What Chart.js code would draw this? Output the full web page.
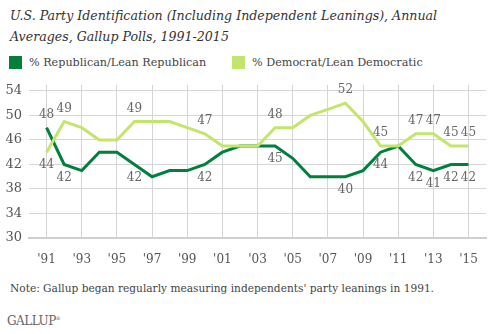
<!DOCTYPE html>
<html>
<head>
<meta charset="utf-8">
<script src="https://cdn.jsdelivr.net/npm/chart.js@4.4.1/dist/chart.umd.min.js"></script>
<style>
  body { margin: 0; background: #fff; width: 493px; height: 334px; position: relative; overflow: hidden; font-family: "DejaVu Serif", serif; }
  #title { position: absolute; left: 10px; top: 5px; font-style: italic; font-size: 12.6px; line-height: 21px; color: #333; white-space: nowrap; }
  #legend { position: absolute; left: 9px; top: 56px; font-size: 11.2px; color: #444; }
  .item { position: absolute; top: 0; white-space: nowrap; line-height: 14px; }
  .swatch { display: inline-block; width: 13px; height: 13px; vertical-align: top; margin-right: 7px; }
  #wrap { position: absolute; left: 0; top: 70px; width: 493px; height: 210px; }
  #note { position: absolute; left: 10px; top: 282px; font-size: 10.6px; color: #444; white-space: nowrap; }
  #logo { position: absolute; left: 7px; top: 314px; font-size: 12px; color: #666; letter-spacing: -0.5px; }
</style>
</head>
<body>
<div id="title">U.S. Party Identification (Including Independent Leanings), Annual<br>Averages, Gallup Polls, 1991-2015</div>
<div id="legend">
  <div class="item" style="left:0"><span class="swatch" style="background:#007f3d"></span>% Republican/Lean Republican</div>
  <div class="item" style="left:223px"><span class="swatch" style="background:#c4e56c"></span>% Democrat/Lean Democratic</div>
</div>
<div id="wrap"><canvas id="partyChart" width="493" height="210"></canvas></div>
<div id="note">Note: Gallup began regularly measuring independents' party leanings in 1991.</div>
<div id="logo">GALLUP<sup style="font-size:5px">&#174;</sup></div>
<script>
const years = [1991, 1992, 1993, 1994, 1995, 1996, 1997, 1998, 1999, 2000, 2001, 2002, 2003,
  2004, 2005, 2006, 2007, 2008, 2009, 2010, 2011, 2012, 2013, 2014, 2015];
const republican = [48, 42, 41, 44, 44, 42, 40, 41, 41, 42, 44, 45, 45,
  45, 43, 40, 40, 40, 41, 44, 45, 42, 41, 42, 42];
const democrat = [44, 49, 48, 46, 46, 49, 49, 49, 48, 47, 45, 45, 45,
  48, 48, 50, 51, 52, 49, 45, 45, 47, 47, 45, 45];
// years that get a value label on both lines
const labelYears = [1991, 1992, 1996, 2000, 2004, 2008, 2010, 2012, 2013, 2014, 2015];
const xTicks = [1991, 1993, 1995, 1997, 1999, 2001, 2003, 2005, 2007, 2009, 2011, 2013, 2015];
const yTicks = [30, 34, 38, 42, 46, 50, 54];

Chart.defaults.font.family = '"DejaVu Serif", serif';

// value labels: the higher line gets its label above, the lower one below
const valueLabels = {
  id: 'valueLabels',
  afterDatasetsDraw(chart) {
    const { ctx, scales: { x, y } } = chart;
    ctx.save();
    ctx.font = '12px "DejaVu Serif"';
    ctx.fillStyle = '#666';
    ctx.textAlign = 'center';
    ctx.textBaseline = 'middle';
    labelYears.forEach(yr => {
      const i = years.indexOf(yr);
      const r = republican[i], d = democrat[i];
      const px = x.getPixelForValue(yr);
      const repUp = r > d;
      ctx.fillText(String(r), px, y.getPixelForValue(r) + (repUp ? -13 : 13));
      ctx.fillText(String(d), px, y.getPixelForValue(d) + (repUp ? 13 : -13));
    });
    ctx.restore();
  }
};

const ctx = document.getElementById('partyChart').getContext('2d');
new Chart(ctx, {
  type: 'line',
  data: {
    datasets: [
      {
        label: '% Republican/Lean Republican',
        data: years.map((yr, i) => ({ x: yr, y: republican[i] })),
        borderColor: '#007f3d',
        borderWidth: 3,
        pointRadius: 0,
        order: 1,
      },
      {
        label: '% Democrat/Lean Democratic',
        data: years.map((yr, i) => ({ x: yr, y: democrat[i] })),
        borderColor: '#c4e56c',
        borderWidth: 3,
        pointRadius: 0,
        order: 0,
      },
    ],
  },
  options: {
    responsive: false,
    animation: false,
    devicePixelRatio: 1,
    layout: { padding: { top: 14, right: 6, left: 0, bottom: 0 } },
    plugins: { legend: { display: false }, tooltip: { enabled: false } },
    scales: {
      x: {
        type: 'linear',
        min: 1990,
        max: 2016,
        afterBuildTicks: s => { s.ticks = xTicks.map(v => ({ value: v })); },
        afterFit: s => { s.height = 42; },
        ticks: {
          callback: v => "'" + String(v).slice(2),
          font: { size: 12 },
          color: '#555',
          padding: 15,
          maxRotation: 0,
          autoSkip: false,
        },
        grid: { color: '#d6d6d6', drawTicks: false },
        border: { display: true, color: '#cfcfcf', width: 2 },
      },
      y: {
        min: 30,
        max: 55,
        afterBuildTicks: s => { s.ticks = yTicks.map(v => ({ value: v })); },
        afterFit: s => { s.width = 29; },
        ticks: { font: { size: 13 }, color: '#555', padding: 7 },
        grid: { color: '#d6d6d6', drawTicks: false },
        border: { display: false },
      },
    },
  },
  plugins: [valueLabels],
});
</script>
</body>
</html>
